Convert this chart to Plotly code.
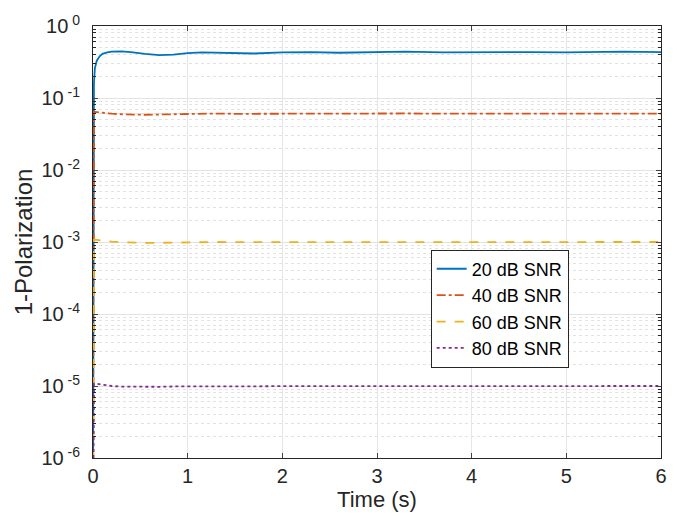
import plotly.graph_objects as go

# Time samples (s)
time_s = [0, 0.005, 0.01, 0.02, 0.04, 0.07, 0.1, 0.15, 0.2, 0.3, 0.4, 0.55, 0.7, 0.85,
          1.0, 1.15, 1.3, 1.5, 1.7, 2.0, 2.3, 2.6, 3.0, 3.3, 3.7, 4.0, 4.3, 4.6,
          5.0, 5.3, 5.6, 6.0]

snr20 = [1e-7, 0.08, 0.16, 0.26, 0.33, 0.38, 0.41, 0.43, 0.44, 0.445, 0.435, 0.41,
         0.395, 0.40, 0.42, 0.43, 0.425, 0.415, 0.415, 0.43, 0.435, 0.425, 0.435,
         0.44, 0.43, 0.435, 0.44, 0.435, 0.43, 0.435, 0.44, 0.435]
snr40 = [1e-7, 0.03, 0.064, 0.064, 0.0635, 0.063, 0.0625, 0.061, 0.0605, 0.0595,
         0.059, 0.0585, 0.059, 0.0598, 0.0605, 0.061, 0.0608, 0.0603, 0.0605, 0.0608,
         0.061, 0.0606, 0.0608, 0.061, 0.0607, 0.0608, 0.061, 0.0607, 0.0608, 0.061,
         0.0608, 0.0608]
snr60 = [1e-7, 5e-4, 1.08e-3, 1.08e-3, 1.07e-3, 1.06e-3, 1.05e-3, 1.03e-3, 1.01e-3,
         0.99e-3, 0.98e-3, 0.97e-3, 0.975e-3, 0.985e-3, 0.995e-3, 1.0e-3, 1.0e-3,
         0.995e-3, 0.995e-3, 1.0e-3, 1.0e-3, 1.0e-3, 1.0e-3, 1.0e-3, 1.0e-3, 1.0e-3,
         1.0e-3, 1.0e-3, 1.0e-3, 1.0e-3, 1.0e-3, 1.0e-3]
snr80 = [1e-7, 5e-6, 1.08e-5, 1.08e-5, 1.07e-5, 1.06e-5, 1.04e-5, 1.02e-5, 1.0e-5,
         0.98e-5, 0.975e-5, 0.97e-5, 0.975e-5, 0.985e-5, 0.99e-5, 0.995e-5, 0.995e-5,
         0.99e-5, 0.99e-5, 0.995e-5, 0.995e-5, 1.0e-5, 1.0e-5, 1.0e-5, 1.0e-5, 1.0e-5,
         1.0e-5, 1.0e-5, 1.0e-5, 1.0e-5, 1.0e-5, 1.0e-5]

series_names = ["20 dB SNR", "40 dB SNR", "60 dB SNR", "80 dB SNR"]
series_values = [snr20, snr40, snr60, snr80]
colors = ["#0072BD", "#D95319", "#EDB120", "#7E2F8E"]
dashes = ["solid", "dashdot", "dash", "dot"]

y_tick_vals = [1e-6, 1e-5, 1e-4, 1e-3, 1e-2, 1e-1, 1e0]
y_tick_text = ["10<sup> -6</sup>", "10<sup> -5</sup>", "10<sup> -4</sup>", "10<sup> -3</sup>",
               "10<sup> -2</sup>", "10<sup> -1</sup>", "10<sup> 0</sup>"]
x_tick_vals = [0, 1, 2, 3, 4, 5, 6]

fig = go.Figure()
for name, vals, c, d in zip(series_names, series_values, colors, dashes):
    fig.add_trace(go.Scatter(x=time_s, y=vals, mode="lines", name=name,
                             line=dict(color=c, width=1.8, dash=d)))

font_family = "Liberation Sans, Arial, sans-serif"
axis_color = "#262626"

fig.update_layout(
    width=679, height=516,
    margin=dict(l=93, r=16, t=18, b=56),
    paper_bgcolor="white", plot_bgcolor="white",
    font=dict(family=font_family, size=18, color=axis_color),
    showlegend=True,
    legend=dict(x=0.716, y=0.346, xanchor="center", yanchor="middle",
                bgcolor="white", bordercolor=axis_color, borderwidth=1,
                font=dict(size=18, color="black"), tracegroupgap=0),
)

fig.update_xaxes(
    range=[0, 6], tickvals=x_tick_vals, ticks="inside", ticklen=5,
    showline=True, linecolor=axis_color, linewidth=1, mirror="ticks",
    showgrid=True, gridcolor="#e6e6e6", gridwidth=1, zeroline=False,
    tickfont=dict(size=20, color=axis_color),
    title=dict(text="Time (s)", font=dict(size=22, color=axis_color), standoff=2),
)
fig.update_yaxes(
    type="log", range=[-6, 0], tickvals=y_tick_vals, ticktext=y_tick_text,
    ticks="inside", ticklen=5, ticklabelstandoff=8,
    showline=True, linecolor=axis_color, linewidth=1, mirror="ticks",
    showgrid=True, gridcolor="#e3e3e3", gridwidth=1, zeroline=False,
    tickfont=dict(size=20, color=axis_color),
    title=dict(text="1-Polarization", font=dict(size=24, color=axis_color), standoff=2),
    minor=dict(dtick="D1", ticks="inside", ticklen=3, tickcolor=axis_color,
               showgrid=True, gridcolor="#e2e2e2", griddash="dot", gridwidth=1),
)

fig.write_html("out.html")
